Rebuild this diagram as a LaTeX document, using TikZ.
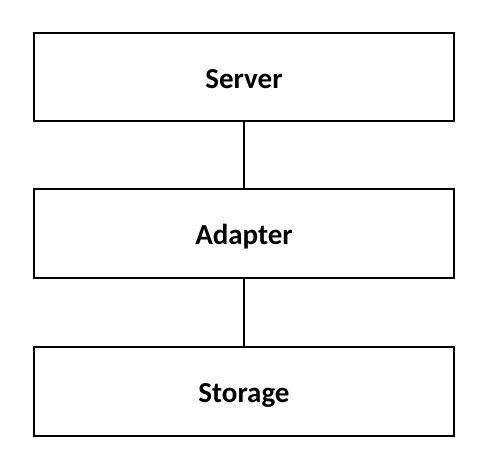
\documentclass[tikz,border=0pt]{standalone}
\usepackage{fontspec}
\setmainfont{Carlito}
\begin{document}
\begin{tikzpicture}[x=1pt,y=1pt,
  layerbox/.style={draw=black, line width=2pt, minimum width=420pt, minimum height=88.5pt, inner sep=0pt, text height=23pt, text depth=0pt, font=\fontsize{29}{35}\selectfont\bfseries},
  link/.style={draw=black, line width=1.6pt}]
\useasboundingbox (0,0) rectangle (492,468);
\node[layerbox] (server) at (244,391) {Server};
\node[layerbox] (adapter) at (244,234.5) {Adapter};
\node[layerbox] (storage) at (244,76.5) {Storage};
\draw[link] (server.south) -- (adapter.north);
\draw[link] (adapter.south) -- (storage.north);
\end{tikzpicture}
\end{document}
